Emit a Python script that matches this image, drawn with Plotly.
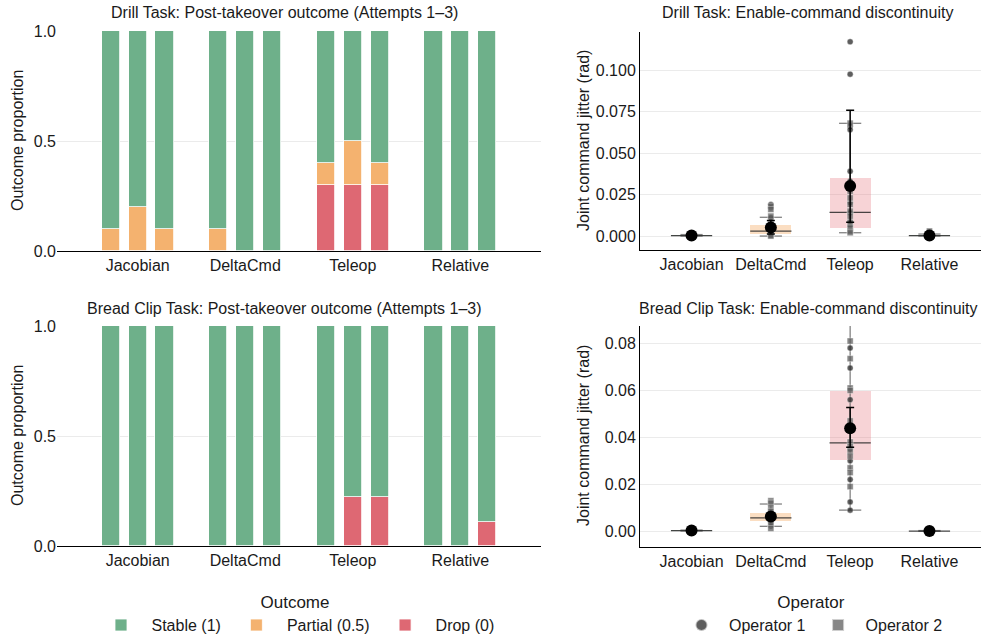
import plotly.graph_objects as go

# ---------------- data ----------------
methods = ["Jacobian", "DeltaCmd", "Teleop", "Relative"]
attempts = [1, 2, 3]
outcome_names = ["Stable (1)", "Partial (0.5)", "Drop (0)"]

# proportions per method (rows) and attempt (cols)
drill_stable = [[0.9, 0.8, 0.9], [0.9, 1.0, 1.0], [0.6, 0.5, 0.6], [1.0, 1.0, 1.0]]
drill_partial = [[0.1, 0.2, 0.1], [0.1, 0.0, 0.0], [0.1, 0.2, 0.1], [0.0, 0.0, 0.0]]
drill_drop = [[0.0, 0.0, 0.0], [0.0, 0.0, 0.0], [0.3, 0.3, 0.3], [0.0, 0.0, 0.0]]

bread_stable = [[1.0, 1.0, 1.0], [1.0, 1.0, 1.0], [1.0, 0.778, 0.778], [1.0, 1.0, 0.889]]
bread_partial = [[0.0, 0.0, 0.0], [0.0, 0.0, 0.0], [0.0, 0.0, 0.0], [0.0, 0.0, 0.0]]
bread_drop = [[0.0, 0.0, 0.0], [0.0, 0.0, 0.0], [0.0, 0.222, 0.222], [0.0, 0.0, 0.111]]

# jitter samples (rad) per method, per operator
drill_op1 = [
    [0.0002, 0.0003, 0.0004, 0.0003, 0.0005],
    [0.019, 0.017, 0.011, 0.009, 0.006, 0.004, 0.002, 0.001],
    [0.117, 0.0975, 0.066, 0.064, 0.039, 0.033, 0.020, 0.014, 0.009, 0.006],
    [0.0002, 0.0004, 0.0003, 0.001],
]
drill_op2 = [
    [0.0002, 0.0004, 0.0006, 0.0003],
    [0.018, 0.016, 0.012, 0.007, 0.003, 0.0015, 0.0005, 0.0],
    [0.068, 0.027, 0.023, 0.019, 0.015, 0.012, 0.008, 0.005, 0.003, 0.002],
    [0.0003, 0.002, 0.003, 0.0005],
]
bread_op1 = [
    [0.0002, 0.0003, 0.0004],
    [0.0065, 0.0058, 0.005, 0.007, 0.004, 0.0022],
    [0.078, 0.0695, 0.056, 0.045, 0.043, 0.035, 0.030, 0.022, 0.0125, 0.009],
    [0.0001, 0.0002],
]
bread_op2 = [
    [0.0003, 0.0004, 0.0002],
    [0.013, 0.012, 0.010, 0.0085, 0.0062, 0.0052, 0.003, 0.0012],
    [0.081, 0.0735, 0.061, 0.060, 0.047, 0.038, 0.036, 0.034, 0.032, 0.027, 0.025, 0.019],
    [0.0001, 0.0002],
]

# box / summary statistics
drill_q1 = [0.0001, 0.0010, 0.0050, 0.0001]
drill_med = [0.0003, 0.0030, 0.0143, 0.0003]
drill_q3 = [0.0005, 0.0065, 0.0347, 0.0006]
drill_wlo = [0.0, 0.0, 0.0020, 0.0]
drill_whi = [0.0009, 0.0113, 0.0679, 0.0012]
drill_mean = [0.0003, 0.0052, 0.0301, 0.0004]
drill_ci_lo = [0.0002, 0.0012, 0.0083, 0.0002]
drill_ci_hi = [0.0004, 0.0094, 0.0757, 0.0006]

bread_q1 = [0.0002, 0.0044, 0.0305, 0.0001]
bread_med = [0.0003, 0.0057, 0.0376, 0.0001]
bread_q3 = [0.0004, 0.0078, 0.0597, 0.0002]
bread_wlo = [0.0001, 0.0021, 0.0090, 0.0]
bread_whi = [0.0005, 0.0116, 0.0950, 0.0003]
bread_mean = [0.0003, 0.0063, 0.0439, 0.0001]
bread_ci_lo = [0.0002, 0.0050, 0.0358, 0.0]
bread_ci_hi = [0.0004, 0.0075, 0.0527, 0.0002]

# ---------------- styles ----------------
OFF = 0                       # page body margin removed via post_script
W, H = 989 - OFF, 641 - OFF
FONT = "Liberation Sans, Arial, sans-serif"
TXT = "#1a1a1a"
FS = 16
outcome_colors = {"Stable (1)": "#6EB08A", "Partial (0.5)": "#F4B26F", "Drop (0)": "#DE6873"}
box_fill = ["rgba(110,176,138,0.3)", "rgba(244,160,80,0.35)", "rgba(230,110,118,0.3)", "rgba(110,176,138,0.3)"]
GRID = "#EBEBEB"


def px_x(p):
    return (p - OFF) / W


def px_y(p):
    return 1 - (p - OFF) / H


fig = go.Figure()

# ---------------- stacked bar panels ----------------
def add_bars(stable, partial, drop, xa, ya, show):
    xs, s_vals, p_vals, d_vals = [], [], [], []
    for i, m in enumerate(methods):
        for a in attempts:
            xs.append(i + (a - 2) * 0.25)
            d_vals.append(drop[i][a - 1] or None)
            p_vals.append(partial[i][a - 1] or None)
            s_vals.append(stable[i][a - 1] or None)
    for name, vals, rank in [("Drop (0)", d_vals, 3), ("Partial (0.5)", p_vals, 2), ("Stable (1)", s_vals, 1)]:
        fig.add_trace(go.Bar(
            x=xs, y=vals, width=0.17, name=name, legendrank=rank,
            marker=dict(color=outcome_colors[name], line=dict(color="white", width=0.8)),
            xaxis=xa, yaxis=ya, showlegend=show, legend="legend", hoverinfo="skip",
        ))


add_bars(drill_stable, drill_partial, drill_drop, "x", "y", True)
add_bars(bread_stable, bread_partial, bread_drop, "x3", "y3", False)

# ---------------- jitter panels ----------------
def add_jitter(q1, med, q3, wlo, whi, mean, ci_lo, ci_hi, op1, op2, xa, ya, show):
    idx = list(range(len(methods)))
    # boxes
    fig.add_trace(go.Bar(
        x=idx, base=q1, y=[b - a for a, b in zip(q1, q3)], width=0.52,
        marker=dict(color=box_fill, line=dict(width=0)),
        xaxis=xa, yaxis=ya, showlegend=False, hoverinfo="skip",
    ))
    # whiskers + caps
    wx, wy = [], []
    for i in idx:
        wx += [i, i, None, i - 0.14, i + 0.14, None, i - 0.14, i + 0.14, None]
        wy += [wlo[i], whi[i], None, wlo[i], wlo[i], None, whi[i], whi[i], None]
    fig.add_trace(go.Scatter(x=wx, y=wy, mode="lines", line=dict(color="rgba(90,90,90,0.75)", width=1.3),
                             xaxis=xa, yaxis=ya, showlegend=False, hoverinfo="skip", cliponaxis=True))
    # medians
    mx, my = [], []
    for i in idx:
        mx += [i - 0.26, i + 0.26, None]
        my += [med[i], med[i], None]
    fig.add_trace(go.Scatter(x=mx, y=my, mode="lines", line=dict(color="rgba(40,40,40,0.85)", width=1.3),
                             xaxis=xa, yaxis=ya, showlegend=False, hoverinfo="skip"))
    # points
    for vals, name, sym, col in [(op1, "Operator 1", "circle", "rgba(40,40,40,0.75)"),
                                 (op2, "Operator 2", "square", "rgba(95,95,95,0.75)")]:
        px_, py_ = [], []
        for i in idx:
            px_ += [i] * len(vals[i])
            py_ += vals[i]
        fig.add_trace(go.Scatter(
            x=px_, y=py_, mode="markers", name=name,
            marker=dict(symbol=sym, size=6, color=col, line=dict(color="rgba(255,255,255,0.6)", width=0.6)),
            xaxis=xa, yaxis=ya, showlegend=show, legend="legend2", hoverinfo="skip",
        ))
    # mean + error bars
    fig.add_trace(go.Scatter(
        x=idx, y=mean, mode="markers",
        marker=dict(symbol="circle", size=12, color="black"),
        error_y=dict(type="data", array=[h - m for h, m in zip(ci_hi, mean)],
                     arrayminus=[m - l for l, m in zip(ci_lo, mean)],
                     color="black", thickness=1.5, width=4),
        xaxis=xa, yaxis=ya, showlegend=False, hoverinfo="skip",
    ))


add_jitter(drill_q1, drill_med, drill_q3, drill_wlo, drill_whi, drill_mean, drill_ci_lo, drill_ci_hi,
           drill_op1, drill_op2, "x2", "y2", True)
add_jitter(bread_q1, bread_med, bread_q3, bread_wlo, bread_whi, bread_mean, bread_ci_lo, bread_ci_hi,
           bread_op1, bread_op2, "x4", "y4", False)

# ---------------- layout ----------------
tickfont = dict(family=FONT, size=FS, color=TXT)

left_dom = [px_x(57), px_x(541)]
right_dom = [px_x(640), px_x(981)]
top_dom = [px_y(251), px_y(31)]
top_dom_r = [px_y(250), px_y(32)]
bot_dom = [px_y(546), px_y(326)]
bot_dom_r = [px_y(547), px_y(326)]


def xax(dom, anchor, rng):
    return dict(domain=dom, anchor=anchor, range=rng, tickmode="array", tickvals=[0, 1, 2, 3],
                ticktext=methods, showline=True, linecolor="black", linewidth=1, showgrid=False,
                zeroline=False, ticks="", tickfont=tickfont, fixedrange=True, automargin=False)


def yax(dom, anchor, rng, tickvals, fmt, line):
    return dict(domain=dom, anchor=anchor, range=rng, tickmode="array", tickvals=tickvals,
                ticktext=[format(v, fmt) for v in tickvals], showgrid=True, gridcolor=GRID, gridwidth=1,
                showline=line, linecolor="black", linewidth=1, zeroline=False, ticks="",
                tickfont=tickfont, fixedrange=True, automargin=False)


layout = dict(
    template="none",
    width=W, height=H, autosize=False,
    margin=dict(l=0, r=0, t=0, b=0, autoexpand=False),
    paper_bgcolor="white", plot_bgcolor="white",
    font=dict(family=FONT, color=TXT),
    barmode="stack", bargap=0,
    xaxis=xax(left_dom, "y", [-0.75, 3.75]),
    yaxis=yax(top_dom, "x", [0, 1.002], [0, 0.5, 1.0], ".1f", False),
    xaxis2=xax(right_dom, "y2", [-0.65, 3.65]),
    yaxis2=yax(top_dom_r, "x2", [-0.0084, 0.1229], [0, 0.025, 0.05, 0.075, 0.1], ".3f", True),
    xaxis3=xax(left_dom, "y3", [-0.75, 3.75]),
    yaxis3=yax(bot_dom, "x3", [0, 1.002], [0, 0.5, 1.0], ".1f", False),
    xaxis4=xax(right_dom, "y4", [-0.65, 3.65]),
    yaxis4=yax(bot_dom_r, "x4", [-0.0067, 0.0874], [0, 0.02, 0.04, 0.06, 0.08], ".2f", True),
    legend=dict(orientation="h", x=px_x(295), xanchor="center", y=px_y(586), yanchor="top",
                title=dict(text="Outcome", side="top center", font=dict(size=17, family=FONT, color=TXT)),
                font=dict(size=FS, family=FONT, color=TXT), traceorder="normal", bgcolor="rgba(0,0,0,0)",
                itemwidth=51),
    legend2=dict(orientation="h", x=px_x(811), xanchor="center", y=px_y(586), yanchor="top",
                 title=dict(text="Operator", side="top center", font=dict(size=17, family=FONT, color=TXT)),
                 font=dict(size=FS, family=FONT, color=TXT), bgcolor="rgba(0,0,0,0)",
                 itemwidth=45, itemsizing="constant"),
    showlegend=True,
)

ann = []
for text, x, y in [
    ("Drill Task: Post-takeover outcome (Attempts 1–3)", 284, 12),
    ("Drill Task: Enable-command discontinuity", 807, 12),
    ("Bread Clip Task: Post-takeover outcome (Attempts 1–3)", 284, 308),
    ("Bread Clip Task: Enable-command discontinuity", 808, 308),
]:
    ann.append(dict(text=text, x=px_x(x), y=px_y(y), xref="paper", yref="paper", xanchor="center",
                    yanchor="middle", showarrow=False, font=dict(size=FS, family=FONT, color=TXT)))
for text, x, y in [
    ("Outcome proportion", 17, 141),
    ("Outcome proportion", 17, 436),
    ("Joint command jitter (rad)", 583, 141),
    ("Joint command jitter (rad)", 583, 436),
]:
    ann.append(dict(text=text, x=px_x(x), y=px_y(y), xref="paper", yref="paper", xanchor="center",
                    yanchor="middle", textangle=-90, showarrow=False,
                    font=dict(size=FS, family=FONT, color=TXT)))
layout["annotations"] = ann

fig.update_layout(layout)
fig.write_html(
    "out.html",
    config={"displayModeBar": False},
    post_script="document.body.style.margin='0';document.body.style.overflow='hidden';",
)
